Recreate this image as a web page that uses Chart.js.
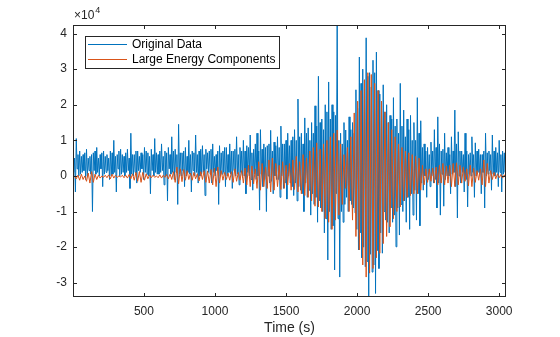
<!DOCTYPE html>
<html>
<head>
<meta charset="utf-8">
<script src="https://cdn.jsdelivr.net/npm/chart.js@4/dist/chart.umd.min.js"></script>
<style>
  html, body { margin: 0; padding: 0; background: #fff; }
</style>
</head>
<body>
<canvas id="kobeChart" width="560" height="337"></canvas>
<script>
// values are in units of 1e4 (the axis shows the x10^4 multiplier)
const originalStep = 6;   // seconds between points of the original trace
const energyStep = 12;    // seconds between points of the filtered trace

const originalData = [
  0.85,0.1,0.5,-0.45, 1.05,0.2,0.6,0.0, 0.7,0.05,0.55,0.1, 0.6,0.15,0.65,-0.1, 0.75,0.0,0.5,0.15,
  0.55,0.05,0.6,-1.0, 0.65,0.15,0.7,0.05, 0.8,0.1,0.5,0.0, 0.6,0.2,0.65,-0.3, 0.7,0.05,0.55,0.1,
  0.6,0.15,0.5,-0.1, 0.7,0.0,0.65,0.05, 1.0,0.1,0.55,-0.45, 0.6,0.2,0.7,0.0, 0.75,0.05,0.6,0.1,
  0.55,0.0,0.65,0.1, 0.75,0.15,0.5,-0.35, 1.2,0.05,0.6,0.0, 0.6,0.1,0.7,-0.2, 0.7,0.15,0.55,0.1,
  0.65,0.2,0.6,-0.1, 0.8,0.1,0.7,0.05, 0.65,0.0,0.55,-0.5, 0.75,0.15,0.6,0.0, 1.05,0.1,0.65,0.05,
  0.6,0.05,0.7,0.1, 0.9,0.15,0.55,-0.25, 0.7,0.0,0.65,-0.7, 0.8,0.2,0.6,0.05, 1.1,0.1,0.7,-0.1,
  0.75,0.1,0.6,-0.8, 1.45,0.05,0.65,0.0, 0.65,0.15,0.7,-0.3, 0.8,0.0,0.55,0.1, 1.0,0.05,0.6,-0.45,
  0.7,0.15,0.65,0.0, 1.15,0.1,0.6,-0.2, 0.7,0.0,0.75,0.05, 0.85,0.1,0.6,-0.55, 0.75,0.2,0.65,0.1,
  0.7,0.05,0.75,-0.2, 0.9,0.1,0.55,0.0, 0.6,0.15,0.7,-0.8, 0.85,0.0,0.65,0.05, 0.7,0.1,0.8,-0.3,
  0.8,0.0,0.6,0.1, 0.9,0.05,0.7,-0.35, 0.7,0.15,0.75,0.0, 1.1,0.05,0.6,-0.25, 0.8,0.1,0.7,-0.05,
  1.0,0.0,0.7,-0.5, 0.85,0.1,0.8,0.0, 1.15,-0.1,0.65,-0.4, 0.75,0.05,0.9,-0.1, 1.2,0.0,0.7,-0.96,
  1.3,0.05,0.75,-0.3, 0.9,-0.1,0.8,-1.0, 0.85,0.0,0.9,-0.2, 1.28,-0.15,0.7,-0.5, 0.95,0.0,0.85,-0.1,
  1.1,-0.1,0.8,-0.6, 1.4,0.0,0.9,-0.35, 0.9,-0.2,1.0,-0.65, 1.2,0.0,0.85,-0.2, 1.0,-0.3,1.1,-0.55,
  1.3,-0.2,1.0,-0.7, 2.16,-0.3,1.1,-0.4, 1.2,-0.5,0.9,-1.0, 1.63,-0.2,1.2,-0.6, 1.35,-0.4,1.0,-1.1,
  1.5,-0.5,1.2,-0.8, 1.97,-0.6,1.4,-1.3, 2.8,-0.7,1.5,-0.9, 1.6,-1.0,1.3,-1.6, 2.0,-1.2,1.8,-2.36,
  2.64,-1.0,1.6,-1.5, 2.0,-1.4,1.8,-2.64, 1.7,-0.5,4.25,-1.2, 1.0,-2.84,1.2,-1.0, 0.9,-1.3,1.5,-0.8,
  1.29,-0.6,1.0,-1.0, 1.66,-0.7,1.3,-0.8, 1.5,-0.9,1.2,-1.04, 2.42,-1.5,1.9,-2.08, 3.34,-1.6,2.6,-2.3,
  3.0,-2.0,2.7,-2.55, 3.88,-2.4,2.8,-3.45, 2.9,-2.2,2.5,-2.7, 3.25,-2.5,2.9,-3.3, 3.48,-2.1,2.4,-2.6,
  2.3,-1.6,1.9,-2.17, 2.56,-1.0,1.8,-1.24, 2.0,-1.3,1.5,-1.6, 1.7,-0.9,1.6,-1.3, 2.2,-1.1,1.4,-1.99,
  1.6,-0.9,1.2,-1.66, 2.6,-0.8,1.4,-1.0, 1.85,-0.7,1.1,-1.3, 1.6,-0.6,1.3,-1.5, 1.7,-0.5,1.0,-1.1,
  1.5,-0.4,1.0,-1.24, 2.2,-0.5,1.2,-1.4, 1.55,-0.2,0.8,-0.4, 0.9,0.0,0.7,-0.6, 0.8,-0.1,0.6,-0.3,
  0.95,0.0,0.7,-0.2, 1.3,-0.1,0.8,-0.9, 1.66,-0.2,0.9,-1.1, 0.7,0.05,0.75,-0.85, 1.2,-0.1,0.65,0.0,
  0.8,0.0,0.6,-0.5, 1.1,0.05,0.7,0.1, 1.85,-0.3,0.9,-1.18, 1.24,0.0,0.7,-0.2, 0.7,0.1,0.6,-0.45,
  1.2,-0.1,0.7,-0.87, 0.6,0.05,0.65,0.0, 1.1,0.1,0.6,-0.6, 0.93,0.0,0.7,0.1, 0.75,0.05,0.6,-0.5,
  0.6,0.1,0.7,-0.9, 1.2,0.0,0.65,0.05, 0.7,0.15,0.6,-0.4, 1.15,0.05,0.7,0.0, 0.8,0.1,0.65,-0.3,
  1.0,0.1,0.6,-0.45, 0.7,0.05,0.65,0.1, 0.55
];

const largeEnergy = [
  -0.05,0.0,-0.08,0.02,-0.12,0.05,-0.1,0.0,-0.15,0.08,
  -0.2,0.12,-0.18,0.05,-0.1,0.02,-0.06,0.0,-0.04,0.02,
  -0.05,0.03,-0.08,0.05,-0.06,0.02,-0.04,0.0,-0.03,0.02,
  -0.05,0.02,-0.06,0.04,-0.08,0.06,-0.12,0.1,-0.15,0.12,
  -0.18,0.1,-0.12,0.06,-0.08,0.03,-0.05,0.02,-0.04,0.0,
  -0.05,0.03,-0.06,0.02,-0.04,0.04,-0.08,0.05,-0.1,0.12,
  -0.18,0.25,-0.22,0.2,-0.16,0.18,-0.12,0.15,-0.1,0.08,
  -0.12,0.1,-0.08,0.06,-0.14,0.12,-0.1,0.15,-0.18,0.14,
  -0.2,0.18,-0.25,0.22,-0.3,0.25,-0.2,0.15,-0.12,0.1,
  -0.1,0.08,-0.12,0.12,-0.18,0.2,-0.15,0.1,-0.12,0.15,
  -0.2,0.22,-0.25,0.3,-0.3,0.28,-0.22,0.2,-0.35,0.4,
  -0.4,0.35,-0.3,0.25,-0.35,0.45,-0.45,0.5,-0.4,0.35,
  -0.3,0.3,-0.38,0.4,-0.35,0.3,-0.25,0.35,-0.4,0.45,
  -0.38,0.55,-0.45,0.4,-0.5,0.6,-0.55,0.5,-0.6,0.7,
  -0.7,0.8,-0.85,0.93,-0.87,0.75,-1.0,0.9,-1.2,1.0,
  -1.3,1.1,-1.5,1.2,-1.24,1.29,-1.1,0.9,-0.8,0.6,
  -0.35,0.8,-1.0,1.1,-1.24,1.77,-1.7,2.1,-2.08,2.4,
  -2.5,2.7,-2.84,2.9,-2.73,2.85,-2.6,2.6,-2.3,2.4,
  -2.17,2.1,-1.9,1.8,-1.7,1.5,-1.43,1.3,-1.2,1.1,
  -1.0,0.9,-0.87,0.8,-0.7,0.7,-0.6,0.65,-0.55,0.6,
  -0.5,0.55,-0.5,0.5,-0.4,0.3,-0.25,0.2,-0.18,0.2,
  -0.15,0.22,-0.2,0.25,-0.25,0.3,-0.2,0.35,-0.25,0.28,
  -0.2,0.3,-0.3,0.35,-0.3,0.37,-0.25,0.3,-0.2,0.25,
  -0.15,0.2,-0.28,0.3,-0.3,0.22,-0.18,0.15,-0.12,0.2,
  -0.25,0.45,-0.3,0.35,-0.2,0.15,-0.1,0.1,-0.08,0.06,
  -0.05,0.04,-0.06,0.03,-0.04
];

const seriesNames = ["Original Data", "Large Energy Components"];
const xTicks = [500, 1000, 1500, 2000, 2500, 3000];
const yTicks = [-3, -2, -1, 0, 1, 2, 3, 4];

const blue = "#0072BD";
const orange = "#D95319";
const axisColor = "#262626";
const font = "'Liberation Sans', Arial, Helvetica, sans-serif";

function toPoints(vals, step) {
  return vals.map((v, i) => ({ x: i * step, y: v }));
}

// box, inward ticks, exponent and legend the way MATLAB draws them
const matlabAxes = {
  id: "matlabAxes",
  afterDraw(chart) {
    const ctx = chart.ctx;
    const a = chart.chartArea;
    const xs = chart.scales.x, ys = chart.scales.y;
    ctx.save();
    ctx.strokeStyle = axisColor;
    ctx.lineWidth = 1;
    ctx.strokeRect(a.left + 0.5, a.top + 0.5, a.right - a.left - 1, a.bottom - a.top - 1);
    ctx.beginPath();
    xTicks.forEach(v => {
      const px = Math.round(xs.getPixelForValue(v)) + 0.5;
      ctx.moveTo(px, a.bottom); ctx.lineTo(px, a.bottom - 4);
      ctx.moveTo(px, a.top); ctx.lineTo(px, a.top + 4);
    });
    yTicks.forEach(v => {
      const py = Math.round(ys.getPixelForValue(v)) + 0.5;
      ctx.moveTo(a.left, py); ctx.lineTo(a.left + 4, py);
      ctx.moveTo(a.right, py); ctx.lineTo(a.right - 4, py);
    });
    ctx.stroke();

    // x10^4 multiplier
    ctx.fillStyle = axisColor;
    ctx.textBaseline = "alphabetic";
    ctx.textAlign = "left";
    ctx.font = "12px " + font;
    const base = "\u00d710";
    ctx.fillText(base, a.left + 1, 19);
    const w = ctx.measureText(base).width;
    ctx.font = "9px " + font;
    ctx.fillText("4", a.left + 2 + w, 13);

    // legend
    const lx = 85, ly = 36, lw = 194, lh = 32;
    ctx.fillStyle = "#fff";
    ctx.fillRect(lx, ly, lw, lh);
    ctx.strokeStyle = "#262626";
    ctx.strokeRect(lx + 0.5, ly + 0.5, lw, lh);
    ctx.font = "12px " + font;
    ctx.textBaseline = "middle";
    chart.data.datasets.forEach((ds, i) => {
      const y = ly + 8.5 + i * 15;
      ctx.strokeStyle = ds.borderColor;
      ctx.lineWidth = 1;
      ctx.beginPath();
      ctx.moveTo(lx + 3, y); ctx.lineTo(lx + 42, y);
      ctx.stroke();
      ctx.fillStyle = "#000";
      ctx.fillText(ds.label, lx + 47, y);
    });
    ctx.restore();
  }
};

new Chart(document.getElementById("kobeChart"), {
  type: "line",
  data: {
    datasets: [
      { label: seriesNames[0], data: toPoints(originalData, originalStep), borderColor: blue,
        borderWidth: 1, pointRadius: 0, tension: 0, order: 2 },
      { label: seriesNames[1], data: toPoints(largeEnergy, energyStep), borderColor: orange,
        borderWidth: 1, pointRadius: 0, tension: 0, order: 1 }
    ]
  },
  options: {
    responsive: false,
    animation: false,
    layout: { padding: { top: 25, right: 54, left: 0, bottom: 0 } },
    plugins: { legend: { display: false }, tooltip: { enabled: false } },
    scales: {
      x: {
        type: "linear", min: 1, max: 3048,
        grid: { display: false, drawTicks: false },
        border: { display: false },
        afterBuildTicks: s => { s.ticks = xTicks.map(v => ({ value: v })); },
        afterFit: s => { s.height = 40; },
        ticks: { color: axisColor, font: { family: font, size: 12 }, padding: 7, maxRotation: 0,
                 callback: v => String(v) },
        title: { display: true, text: "Time (s)", color: axisColor,
                 font: { family: font, size: 14 }, padding: { top: 0, bottom: 0 } }
      },
      y: {
        min: -3.4, max: 4.24,
        grid: { display: false, drawTicks: false },
        border: { display: false },
        afterBuildTicks: s => { s.ticks = yTicks.map(v => ({ value: v })); },
        afterFit: s => { s.width = 73; },
        ticks: { color: axisColor, font: { family: font, size: 12 }, padding: 6,
                 callback: v => String(v) }
      }
    }
  },
  plugins: [matlabAxes]
});
</script>
</body>
</html>
